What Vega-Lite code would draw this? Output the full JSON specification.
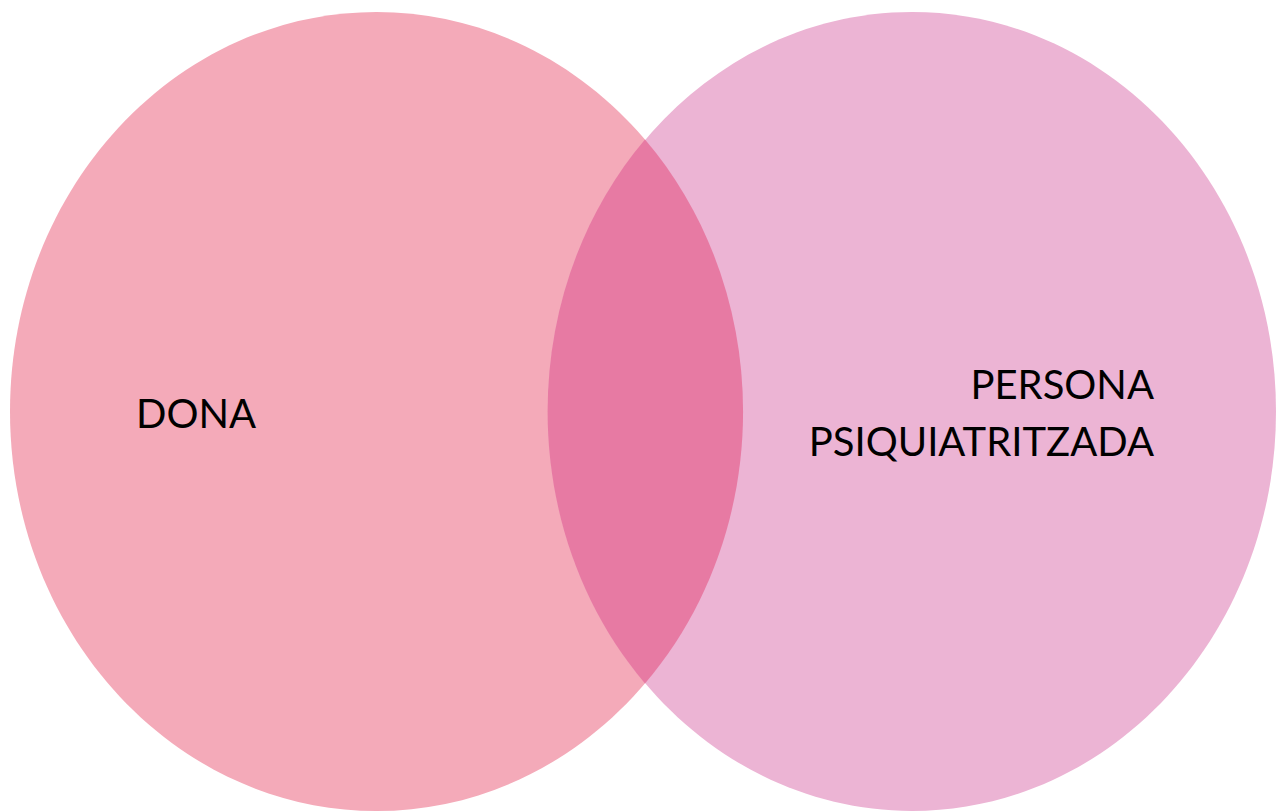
{
  "$schema": "https://vega.github.io/schema/vega-lite/v6.json",
  "width": 1276,
  "height": 811,
  "autosize": {"type": "fit", "contains": "padding"},
  "padding": 0,
  "background": "white",
  "config": {"view": {"stroke": null}},
  "datasets": {
    "sets": [
      {"set": "DONA", "cx": 376.5, "cy": 411.5},
      {"set": "PERSONA PSIQUIATRITZADA", "cx": 912, "cy": 411.5},
      {"set": "DONA ∩ PERSONA PSIQUIATRITZADA", "cx": 645, "cy": 411.5}
    ],
    "leftLabels": [
      {"label": "DONA", "lx": 136, "ly": 428}
    ],
    "rightLabels": [
      {"label": "PERSONA", "lx": 1154, "ly": 399},
      {"label": "PSIQUIATRITZADA", "lx": 1154, "ly": 456}
    ]
  },
  "layer": [
    {
      "data": {"name": "sets"},
      "mark": {"type": "point", "filled": true, "opacity": 1, "size": 640000, "strokeWidth": 0, "clip": true},
      "encoding": {
        "x": {"field": "cx", "type": "quantitative", "scale": {"domain": [0, 1276], "nice": false, "zero": false}, "axis": null},
        "y": {"field": "cy", "type": "quantitative", "scale": {"domain": [0, 811], "nice": false, "zero": false, "reverse": true}, "axis": null},
        "shape": {
          "field": "set",
          "type": "nominal",
          "scale": {
            "domain": ["DONA", "PERSONA PSIQUIATRITZADA", "DONA ∩ PERSONA PSIQUIATRITZADA"],
            "range": [
              "M -0.91625 0 A 0.91625 0.99875 0 1 0 0.91625 0 A 0.91625 0.99875 0 1 0 -0.91625 0 Z",
              "M -0.91 0 A 0.91 0.99875 0 1 0 0.91 0 A 0.91 0.99875 0 1 0 -0.91 0 Z",
              "M 0 -0.68 A 0.91 0.99875 0 0 0 0 0.68 A 0.91625 0.99875 0 0 0 0 -0.68 Z"
            ]
          },
          "legend": null
        },
        "color": {
          "field": "set",
          "type": "nominal",
          "scale": {
            "domain": ["DONA", "PERSONA PSIQUIATRITZADA", "DONA ∩ PERSONA PSIQUIATRITZADA"],
            "range": ["#F4AAB9", "#ECB4D4", "#E77AA3"]
          },
          "legend": null
        }
      }
    },
    {
      "data": {"name": "leftLabels"},
      "mark": {"type": "text", "font": "Lato", "fontSize": 40, "align": "left", "baseline": "alphabetic", "color": "#000000"},
      "encoding": {
        "x": {"field": "lx", "type": "quantitative"},
        "y": {"field": "ly", "type": "quantitative"},
        "text": {"field": "label"}
      }
    },
    {
      "data": {"name": "rightLabels"},
      "mark": {"type": "text", "font": "Lato", "fontSize": 40, "align": "right", "baseline": "alphabetic", "color": "#000000"},
      "encoding": {
        "x": {"field": "lx", "type": "quantitative"},
        "y": {"field": "ly", "type": "quantitative"},
        "text": {"field": "label"}
      }
    }
  ]
}
